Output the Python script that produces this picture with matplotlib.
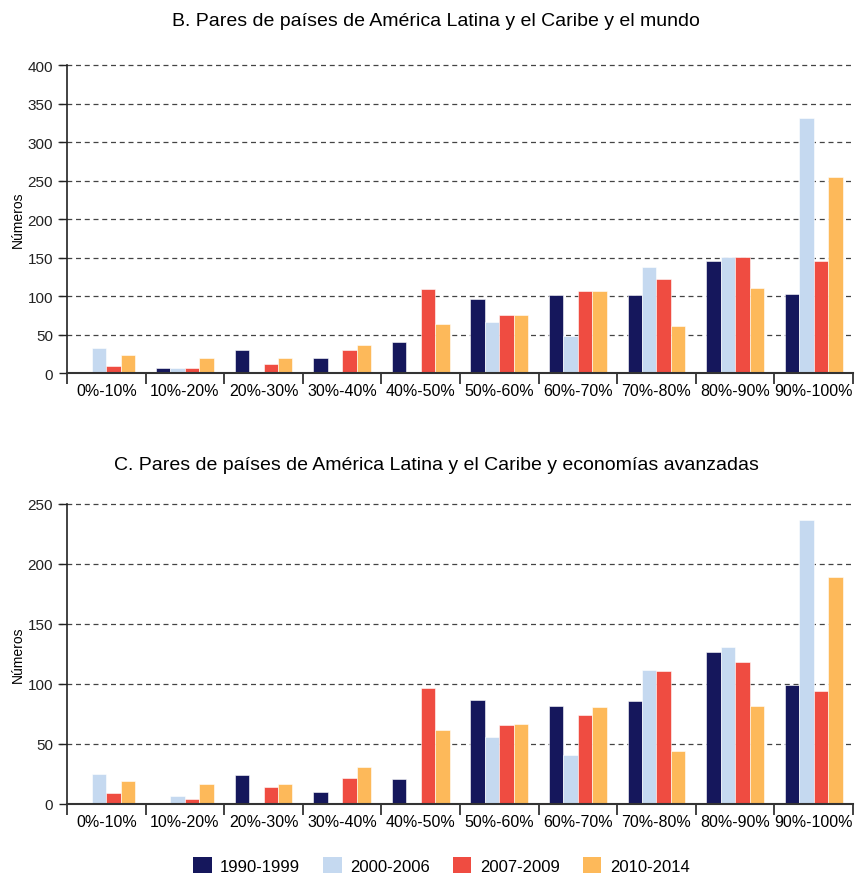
import matplotlib
matplotlib.use("Agg")
import matplotlib.pyplot as plt
import numpy as np
from matplotlib.patches import Patch

plt.rcParams['font.family'] = ['Liberation Sans', 'DejaVu Sans']

categories = ["0%-10%", "10%-20%", "20%-30%", "30%-40%", "40%-50%",
              "50%-60%", "60%-70%", "70%-80%", "80%-90%", "90%-100%"]
periods = ["1990-1999", "2000-2006", "2007-2009", "2010-2014"]
colors = ["#15175c", "#c5d9f0", "#ef4c41", "#fdb95a"]

# Panel B: pares con el mundo
mundo_1990 = [1, 6, 30, 19, 40, 96, 101, 101, 146, 103]
mundo_2000 = [33, 6, 0, 0, 0, 66, 48, 138, 151, 331]
mundo_2007 = [9, 6, 12, 30, 109, 75, 106, 122, 151, 146]
mundo_2010 = [23, 19, 19, 36, 64, 75, 106, 61, 111, 254]

# Panel C: pares con economías avanzadas
avz_1990 = [1, 0, 24, 10, 21, 87, 82, 86, 127, 99]
avz_2000 = [25, 7, 0, 0, 1, 56, 41, 112, 131, 237]
avz_2007 = [9, 4, 14, 22, 97, 66, 74, 111, 118, 94]
avz_2010 = [19, 17, 17, 31, 62, 67, 81, 44, 82, 189]


def draw_panel(ax, series, ymax, ystep, title, title_pad):
    x = np.arange(len(categories))
    w = 0.184
    for i, (vals, c) in enumerate(zip(series, colors)):
        ax.bar(x + (i - 1.5) * w, vals, width=w, color=c,
               edgecolor="white", linewidth=0.4, zorder=3)
    ax.set_xlim(-0.5, len(categories) - 0.5)
    ax.set_ylim(0, ymax)
    ax.set_yticks(np.arange(0, ymax + 1, ystep))
    ax.tick_params(axis="y", labelsize=11, length=6, width=1, colors="#222222",
                   direction="out", pad=4)
    for v in np.arange(ystep, ymax + 1, ystep):
        ax.axhline(v, color="#444444", linestyle=(0, (4, 3)), linewidth=0.9,
                   zorder=1, xmin=-0.012, clip_on=False)
    # category separators below the axis
    ax.set_xticks(np.arange(-0.5, len(categories)), minor=True)
    ax.set_xticks(x)
    ax.set_xticklabels(categories, fontsize=11.5)
    ax.tick_params(axis="x", which="major", length=0, pad=7)
    ax.tick_params(axis="x", which="minor", length=8, width=1.2, color="#222222")
    for s in ["top", "right"]:
        ax.spines[s].set_visible(False)
    ax.spines["left"].set_color("#222222")
    ax.spines["left"].set_linewidth(1.2)
    ax.spines["bottom"].set_color("#333333")
    ax.spines["bottom"].set_linewidth(1.5)
    ax.spines["bottom"].set_zorder(4)
    ax.set_ylabel("Números", fontsize=10, labelpad=0)
    ax.yaxis.set_label_coords(-0.054, 0.5)
    ax.set_title(title, fontsize=14, pad=title_pad, x=0.47)


fig = plt.figure(figsize=(8.57, 8.79), dpi=100)
ax1 = fig.add_axes([0.0782, 0.5745, 0.9171, 0.3504])
ax2 = fig.add_axes([0.0782, 0.0842, 0.9171, 0.3413])

draw_panel(ax1, [mundo_1990, mundo_2000, mundo_2007, mundo_2010], 400, 50,
           "B. Pares de países de América Latina y el Caribe y el mundo", 29)
draw_panel(ax2, [avz_1990, avz_2000, avz_2007, avz_2010], 250, 50,
           "C. Pares de países de América Latina y el Caribe y economías avanzadas", 25)

handles = [Patch(facecolor=c, edgecolor="none", label=p) for c, p in zip(colors, periods)]
fig.legend(handles=handles, loc="lower center", bbox_to_anchor=(0.515, -0.012), ncol=4,
           frameon=False, fontsize=12, handlelength=1.1, handleheight=1.1,
           handletextpad=0.5, columnspacing=1.4)

fig.savefig("out.png", dpi=100)
